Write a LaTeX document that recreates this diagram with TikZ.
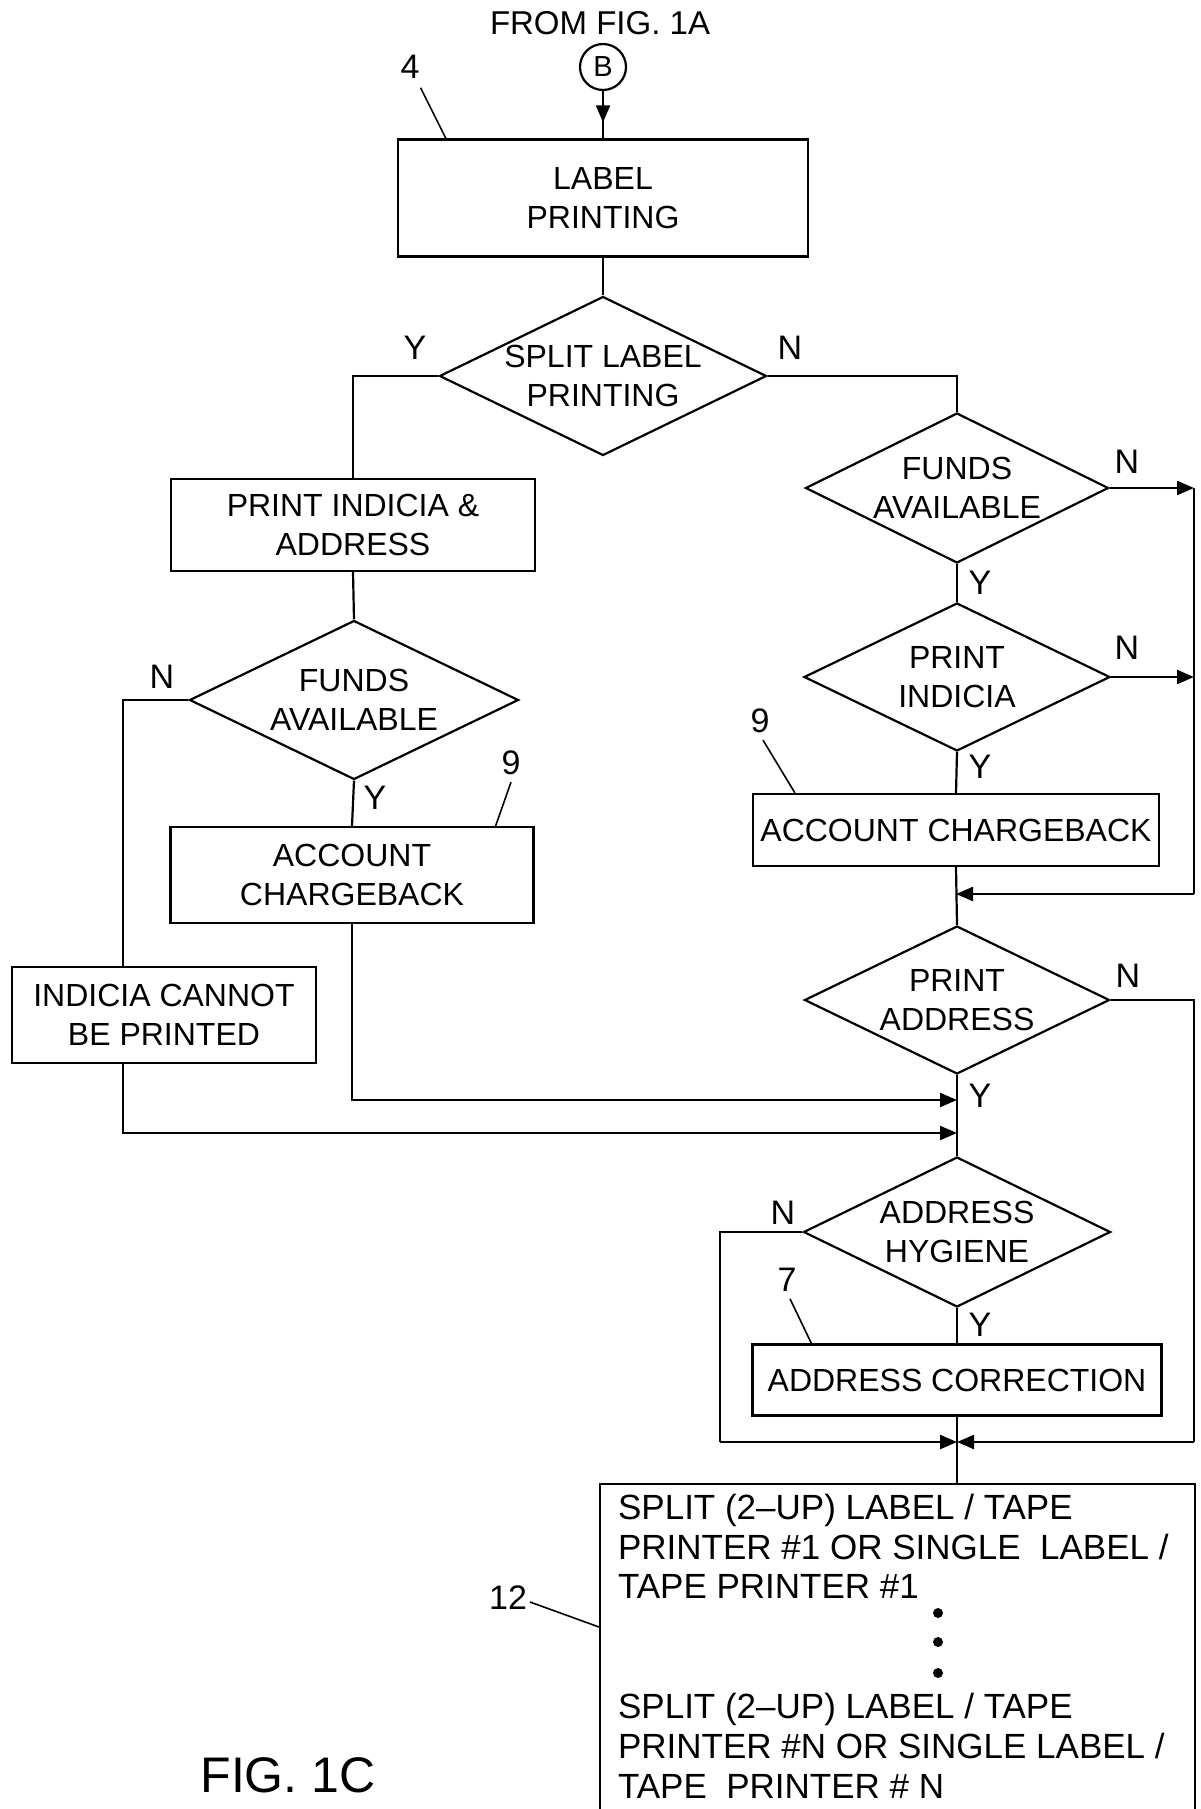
\documentclass[tikz,border=0pt]{standalone}
\usepackage{fontspec}
\setmainfont{Liberation Sans}
\usetikzlibrary{shapes.geometric,arrows.meta,decorations.markings,calc}
\begin{document}
\begin{tikzpicture}[x=1pt,y=-1pt,
  line width=2.2pt,
  every node/.style={font=\fontsize{32}{39}\selectfont},
  procbox/.style={draw, rectangle, inner sep=0pt, align=center},
  decbox/.style={draw, diamond, inner sep=0pt},
  dtext/.style={label={[align=center,inner sep=0pt]center:#1}},
  yn/.style={inner sep=0pt, font=\fontsize{34}{36}\selectfont},
  refnum/.style={inner sep=0pt, font=\fontsize{34}{36}\selectfont},
  leader/.style={line width=1.6pt},
  arr/.style={-{Triangle[length=17pt,width=14pt]}},
  midarrow/.style={postaction={decorate},decoration={markings,
     mark=at position #1 with {\arrow{Triangle[length=17pt,width=14pt]}}}},
  outtext/.style={inner sep=0pt, anchor=base west, font=\fontsize{35}{40}\selectfont},
  dot/.style={circle, fill=black, inner sep=0pt, minimum size=10pt}
]
\useasboundingbox (0,0) rectangle (1200,1809);

% top
\node[font=\fontsize{33}{36}\selectfont] (from) at (600,23) {FROM FIG.\ 1A};
\node[circle, draw, minimum size=46pt, inner sep=0pt, font=\fontsize{29}{30}\selectfont] (B) at (603,67) {B};
\node[procbox, minimum width=410pt, minimum height=117pt] (lab) at (603,198) {LABEL\\PRINTING};
\node[refnum] (n4) at (410,67) {4};

% split decision
\node[decbox, minimum width=327pt, minimum height=159pt, dtext={SPLIT LABEL\\PRINTING}] (split) at (603,376) {};
\node[yn] (ysplit) at (415,348) {Y};
\node[yn] (nsplit) at (790,348) {N};

% left column
\node[procbox, minimum width=364pt, minimum height=92pt] (pia) at (353,525) {PRINT INDICIA \&\\ADDRESS};
\node[decbox, minimum width=329pt, minimum height=159pt, dtext={FUNDS\\AVAILABLE}] (lf) at (354,700) {};
\node[yn] (nlf) at (162,677) {N};
\node[yn] (ylf) at (375,798) {Y};
\node[procbox, minimum width=363pt, minimum height=96pt] (lcb) at (352,875) {ACCOUNT\\CHARGEBACK};
\node[refnum] (n9a) at (511,763) {9};
\node[procbox, minimum width=304pt, minimum height=96pt] (icp) at (164,1015) {INDICIA CANNOT\\BE PRINTED};

% right column
\node[decbox, minimum width=303pt, minimum height=150pt, dtext={FUNDS\\AVAILABLE}] (rf) at (957,488) {};
\node[yn] (nrf) at (1127,462) {N};
\node[yn] (yrf) at (980,583) {Y};
\node[decbox, minimum width=306pt, minimum height=148pt, dtext={PRINT\\INDICIA}] (pi) at (957,677) {};
\node[yn] (npi) at (1127,648) {N};
\node[yn] (ypi) at (980,767) {Y};
\node[refnum] (n9b) at (760,721) {9};
\node[procbox, minimum width=406pt, minimum height=72pt] (rcb) at (956,830) {ACCOUNT CHARGEBACK};
\node[decbox, minimum width=305pt, minimum height=148pt, dtext={PRINT\\ADDRESS}] (pa) at (957,1000) {};
\node[yn] (npa) at (1128,976) {N};
\node[yn] (ypa) at (980,1096) {Y};
\node[decbox, minimum width=307pt, minimum height=150pt, dtext={ADDRESS\\HYGIENE}] (ah) at (957,1232) {};
\node[yn] (nah) at (783,1213) {N};
\node[yn] (yah) at (980,1325) {Y};
\node[refnum] (n7) at (787,1280) {7};
\node[procbox, minimum width=409pt, minimum height=71pt] (ac) at (957,1380) {ADDRESS CORRECTION};

% output box (bottom edge lies below the page)
\node[draw, rectangle, inner sep=0pt, minimum width=595pt, minimum height=360pt, anchor=north west] (out) at (599,1483) {};
\node[outtext] (t1) at (617,1519) {SPLIT (2--UP) LABEL / TAPE};
\node[outtext] (t2) at (617,1559) {PRINTER \#1 OR SINGLE\ \ LABEL /};
\node[outtext] (t3) at (617,1598) {TAPE PRINTER \#1};
\node[dot] (d1) at (938,1613) {};
\node[dot] (d2) at (938,1642) {};
\node[dot] (d3) at (938,1673) {};
\node[outtext] (t4) at (617,1718) {SPLIT (2--UP) LABEL / TAPE};
\node[outtext] (t5) at (617,1758) {PRINTER \#N OR SINGLE LABEL /};
\node[outtext] (t6) at (617,1798) {TAPE\ \ PRINTER \# N};
\node[refnum] (n12) at (508,1598) {12};

\node[font=\fontsize{50}{54}\selectfont] (fig) at (288,1775) {FIG.\ 1C};

% junction coordinates
\coordinate (rv) at (1194,894);
\coordinate (mr) at (1194,1442);
\coordinate (ml) at (720,1442);
\coordinate (mj) at (957,1442);
\coordinate (lx) at (123,967);
\coordinate (j1) at (957,1100);
\coordinate (j2) at (957,1133);

% connectors
\draw[midarrow=0.66] (B) -- (lab);
\draw (lab.south) -- (split.north);
\draw (split.west) -| (pia.north);
\draw (split.east) -| (rf.north);
\draw (pia.south) -- (lf.north);
\draw (lf.south) -- (lcb.north);
\draw (lf.west) -| (lx);
\draw[arr] (lcb.south) |- (j1);
\draw[arr] (lx |- icp.south) |- (j2);

\draw (rf.south) -- (pi.north);
\draw[arr] (rf.east) -- (rf.east -| rv);
\draw[arr] (pi.east) -- (pi.east -| rv);
\draw (rf.east -| rv) -- (rv);
\draw[arr] (rv) -- (rv -| rcb.south);
\draw (pi.south) -- (rcb.north);
\draw (rcb.south) -- (pa.north);
\draw (pa.south) -- (ah.north);
\draw (pa.east) -| (mr);
\draw[arr] (mr) -- (mj);
\draw (ah.south) -- (ac.north);
\draw (ah.west) -| (ml);
\draw[arr] (ml) -- (mj);
\draw (ac.south) -- (ac.south |- out.north);

% reference leaders
\draw[leader] ($(n4.south east)+(0,8)$) -- ($(lab.north west)+(49,0)$);
\draw[leader] ($(n9a.south)+(0,6)$) -- ($(lcb.north east)+(-39,0)$);
\draw[leader] ($(n9b.south)+(3,6)$) -- ($(rcb.north west)+(43,0)$);
\draw[leader] ($(n7.south)+(3,6)$) -- ($(ac.north west)+(60,0)$);
\draw[leader] ($(n12.east)+(2,4)$) -- ($(out.north west)+(0,144)$);
\end{tikzpicture}
\end{document}
